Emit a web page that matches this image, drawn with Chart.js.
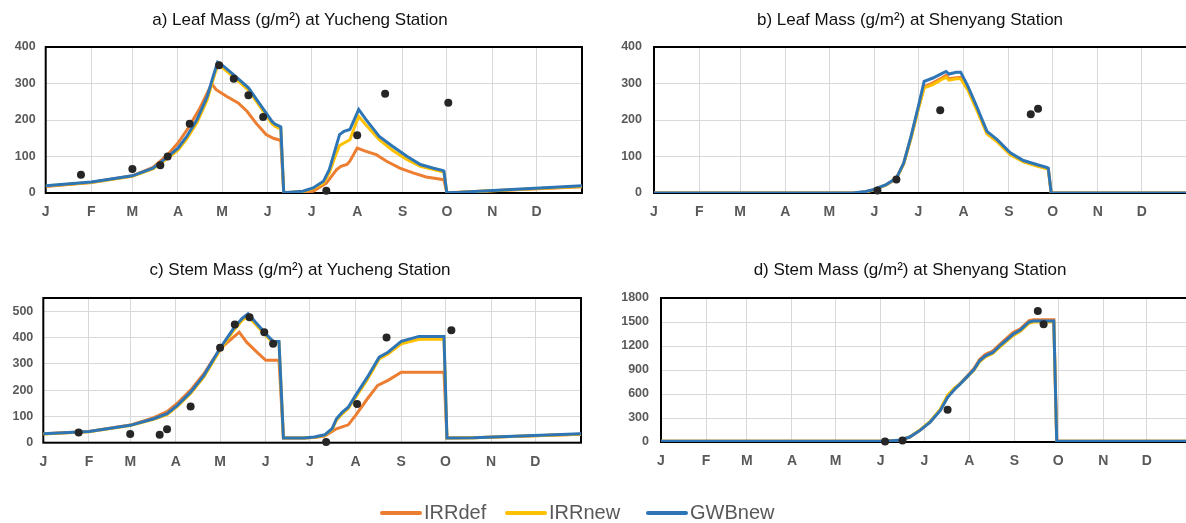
<!DOCTYPE html>
<html>
<head>
<meta charset="utf-8">
<script src="https://cdn.jsdelivr.net/npm/chart.js@4.4.1/dist/chart.umd.min.js"></script>
<style>
body { margin: 0; width: 1186px; height: 523px; overflow: hidden; background: #fff; position: relative; font-family: "Liberation Sans", Arial, sans-serif; }
canvas { position: absolute; }
.title { position: absolute; width: 600px; height: 20px; line-height: 20px; font-size: 17px; color: #111; text-align: center; }
.key { position: absolute; top: 499px; height: 26px; line-height: 26px; font-size: 20px; color: #595959; }
.key span { display: inline-block; width: 42px; height: 4px; border-radius: 2px; vertical-align: middle; margin-right: 2px; position: relative; top: -1px; }
</style>
</head>
<body>
<canvas id="chartA" width="600" height="250" style="left:0;top:0"></canvas>
<canvas id="chartB" width="620" height="250" style="left:600px;top:0"></canvas>
<canvas id="chartC" width="600" height="250" style="left:0;top:250px"></canvas>
<canvas id="chartD" width="620" height="250" style="left:600px;top:250px"></canvas>
<div class="title" style="left:0;top:10px">a) Leaf Mass (g/m²) at Yucheng Station</div>
<div class="title" style="left:610px;top:10px">b) Leaf Mass (g/m²) at Shenyang Station</div>
<div class="title" style="left:0;top:260px">c) Stem Mass (g/m²) at Yucheng Station</div>
<div class="title" style="left:610px;top:260px">d) Stem Mass (g/m²) at Shenyang Station</div>
<div class="key" style="left:380px"><span style="background:#ED7D31"></span>IRRdef</div>
<div class="key" style="left:505px"><span style="background:#FFC000"></span>IRRnew</div>
<div class="key" style="left:646px"><span style="background:#2E75B6"></span>GWBnew</div>
<script>
// day of year where each month starts, and the letter shown under it
const monthStarts = [0, 31, 59, 90, 120, 151, 181, 212, 243, 273, 304, 334];
const monthLetters = ["J", "F", "M", "A", "M", "J", "J", "A", "S", "O", "N", "D"];

// a) leaf mass, Yucheng  [day, g/m2]
const leafYuIRRdef = [[0,18],[31,29],[59,47],[73,70],[83,105],[90,137],[97,178],[105,233],[113,299],[116,283],[123,265],[131,247],[137,224],[143,192],[150,160],[155,150],[160,144],[162,1],[175,3],[182,5],[191,27],[198,64],[201,73],[205,78],[207,87],[212,123],[218,114],[225,105],[232,87],[241,68],[250,55],[259,44],[270,37],[271,36],[273,1],[282,2],[365,17]];
const leafYuIRRnew = [[0,19],[31,29],[59,46],[73,66],[83,95],[90,117],[96,148],[103,193],[110,256],[114,312],[117,350],[120,344],[129,314],[138,282],[146,236],[154,190],[156,183],[159,177],[160,176],[162,1],[175,4],[182,12],[189,27],[193,55],[197,100],[200,130],[203,137],[207,146],[210,178],[213,210],[218,186],[227,146],[236,117],[246,91],[255,73],[264,64],[270,58],[271,57],[273,1],[282,2],[365,18]];
const leafYuGWBnew = [[0,20],[31,30],[59,47],[73,68],[83,99],[90,123],[96,155],[103,201],[110,265],[114,320],[117,358],[120,351],[129,320],[138,288],[146,242],[154,196],[156,189],[159,183],[160,181],[162,1],[175,5],[182,14],[189,32],[193,64],[197,119],[200,160],[203,169],[207,174],[210,201],[213,229],[218,201],[227,155],[236,128],[246,100],[255,78],[264,68],[270,62],[271,60],[273,1],[282,2],[365,20]];
const leafYuObs = [[24,50],[59,66],[78,76],[83,100],[98,190],[118,350],[128,313],[138,268],[148,208],[191,6],[212,158],[231,272],[274,247]];

// b) leaf mass, Shenyang
const leafShIRRdef = [[0,0],[136,0],[145,3],[150,8],[159,22],[166,40],[171,81],[176,152],[181,232],[185,291],[191,302],[197,315],[200,322],[202,313],[207,316],[210,317],[215,285],[221,231],[228,164],[235,142],[244,107],[253,87],[262,76],[269,68],[270,66],[272,0],[365,0]];
const leafShIRRnew = [[0,0],[136,0],[145,3],[150,8],[159,22],[166,40],[171,80],[176,150],[181,230],[185,288],[191,297],[197,311],[200,317],[202,309],[207,313],[210,313],[215,282],[221,228],[228,162],[235,140],[244,105],[253,85],[262,74],[269,66],[270,65],[272,0],[365,0]];
const leafShGWBnew = [[0,0],[136,0],[145,4],[150,9],[159,23],[166,41],[171,82],[176,155],[181,237],[185,306],[191,315],[197,327],[200,333],[202,326],[207,331],[210,331],[215,292],[221,237],[228,169],[235,146],[244,110],[253,89],[262,78],[269,70],[270,68],[272,0],[365,0]];
const leafShObs = [[153,7],[166,37],[196,227],[258,216],[263,231]];

// c) stem mass, Yucheng
const stemYuIRRdef = [[0,34],[31,43],[59,67],[75,95],[84,118],[91,150],[100,200],[109,262],[120,357],[133,420],[138,382],[145,344],[151,313],[160,313],[163,18],[177,18],[184,20],[191,25],[199,53],[207,68],[212,104],[220,167],[227,218],[234,237],[243,268],[252,268],[272,268],[274,18],[292,19],[365,32]];
const stemYuIRRnew = [[0,33],[31,42],[59,65],[75,89],[84,107],[91,138],[100,187],[109,250],[120,352],[129,425],[135,465],[139,480],[145,445],[152,402],[156,380],[160,380],[163,18],[177,18],[184,21],[191,28],[196,50],[199,85],[203,110],[207,130],[212,172],[220,240],[228,318],[234,337],[243,376],[255,393],[272,393],[274,18],[292,19],[365,32]];
const stemYuGWBnew = [[0,34],[31,43],[59,66],[75,91],[84,110],[91,142],[100,192],[109,256],[120,359],[129,433],[135,473],[139,490],[145,452],[152,408],[156,385],[160,385],[163,18],[177,18],[184,22],[191,30],[196,53],[199,91],[203,116],[207,135],[212,180],[220,249],[228,325],[234,344],[243,385],[255,404],[272,404],[274,18],[292,19],[365,34]];
const stemYuObs = [[24,39],[59,33],[79,30],[84,51],[100,138],[120,361],[130,449],[140,477],[150,420],[156,376],[192,3],[213,147],[233,400],[277,427]];

// d) stem mass, Shenyang
const stemShIRRdef = [[0,10],[153,10],[164,21],[171,62],[178,146],[185,252],[192,400],[197,566],[202,668],[205,720],[210,815],[215,915],[219,1030],[223,1095],[228,1135],[234,1240],[242,1370],[247,1415],[253,1518],[256,1528],[270,1528],[272,10],[365,10]];
const stemShIRRnew = [[0,10],[153,10],[164,22],[171,64],[178,150],[185,258],[192,410],[197,585],[202,680],[205,718],[210,805],[215,895],[219,1000],[223,1065],[228,1105],[234,1205],[242,1330],[247,1385],[253,1485],[256,1500],[270,1500],[272,10],[365,10]];
const stemShGWBnew = [[0,10],[153,10],[164,21],[171,62],[178,145],[185,249],[192,394],[197,559],[202,663],[205,713],[210,808],[215,903],[219,1015],[223,1077],[228,1119],[234,1222],[242,1347],[247,1401],[253,1500],[256,1513],[270,1513],[272,10],[365,10]];
const stemShObs = [[154,5],[166,20],[197,402],[259,1637],[263,1471]];

const FONT = "'Liberation Sans', Arial, sans-serif";
const TICK_COLOR = "#595959";
const GRID_COLOR = "#d9d9d9";

// black frame round the plot area, under the lines
const framePlugin = {
    id: "frame",
    beforeDatasetsDraw(chart) {
        const { ctx, chartArea } = chart;
        ctx.save();
        ctx.strokeStyle = "#000";
        ctx.lineWidth = 2;
        ctx.strokeRect(chartArea.left, chartArea.top, chartArea.right - chartArea.left, chartArea.bottom - chartArea.top);
        ctx.restore();
    },
};

function makePanel(id, irrdef, irrnew, gwbnew, obs, yMax, yStep, box) {
    return new Chart(document.getElementById(id), {
        type: "line",
        data: {
            datasets: [
                { label: "Observed", data: obs, showLine: false, pointRadius: 4, pointBackgroundColor: "#262626", pointBorderWidth: 0, order: 0, clip: false },
                { label: "GWBnew", data: gwbnew, borderColor: "#2E75B6", order: 1 },
                { label: "IRRnew", data: irrnew, borderColor: "#FFC000", order: 2 },
                { label: "IRRdef", data: irrdef, borderColor: "#ED7D31", order: 3 },
            ],
        },
        options: {
            responsive: false,
            animation: false,
            layout: { padding: { left: 0, right: box.pr, top: box.top, bottom: 0 } },
            elements: {
                line: { borderWidth: 3, tension: 0 },
                point: { radius: 0 },
            },
            plugins: {
                legend: { display: false },
                tooltip: { enabled: false },
            },
            scales: {
                x: {
                    type: "linear",
                    min: 0,
                    max: 365,
                    afterBuildTicks: (scale) => {
                        scale.ticks = monthStarts.map((d) => ({ value: d }));
                    },
                    afterFit: (scale) => {
                        scale.height = box.xh;
                    },
                    ticks: {
                        autoSkip: false,
                        maxRotation: 0,
                        padding: 11,
                        color: TICK_COLOR,
                        font: { family: FONT, size: 14, weight: "bold" },
                        callback: (v, i) => monthLetters[i],
                    },
                    grid: { color: GRID_COLOR, drawTicks: false },
                    border: { display: false },
                },
                y: {
                    min: 0,
                    max: yMax,
                    afterFit: (scale) => {
                        scale.width = box.yw;
                    },
                    ticks: {
                        stepSize: yStep,
                        includeBounds: false,
                        padding: box.tp,
                        color: TICK_COLOR,
                        font: { family: FONT, size: 12.5, weight: "bold" },
                        callback: (v) => String(v),
                    },
                    grid: { color: GRID_COLOR, drawTicks: false },
                    border: { display: false },
                },
            },
        },
        plugins: [framePlugin],
    });
}

makePanel("chartA", leafYuIRRdef, leafYuIRRnew, leafYuGWBnew, leafYuObs, 400, 100,
    { pr: 18, yw: 45.7, xh: 57, top: 47, tp: 10 });
makePanel("chartB", leafShIRRdef, leafShIRRnew, leafShGWBnew, leafShObs, 400, 100,
    { pr: 33, yw: 54, xh: 57, top: 47, tp: 12 });
makePanel("chartC", stemYuIRRdef, stemYuIRRnew, stemYuGWBnew, stemYuObs, 550, 100,
    { pr: 19, yw: 43.3, xh: 57.3, top: 48, tp: 10 });
makePanel("chartD", stemShIRRdef, stemShIRRnew, stemShGWBnew, stemShObs, 1800, 300,
    { pr: 28, yw: 61, xh: 58, top: 48, tp: 12 });
</script>
</body>
</html>
